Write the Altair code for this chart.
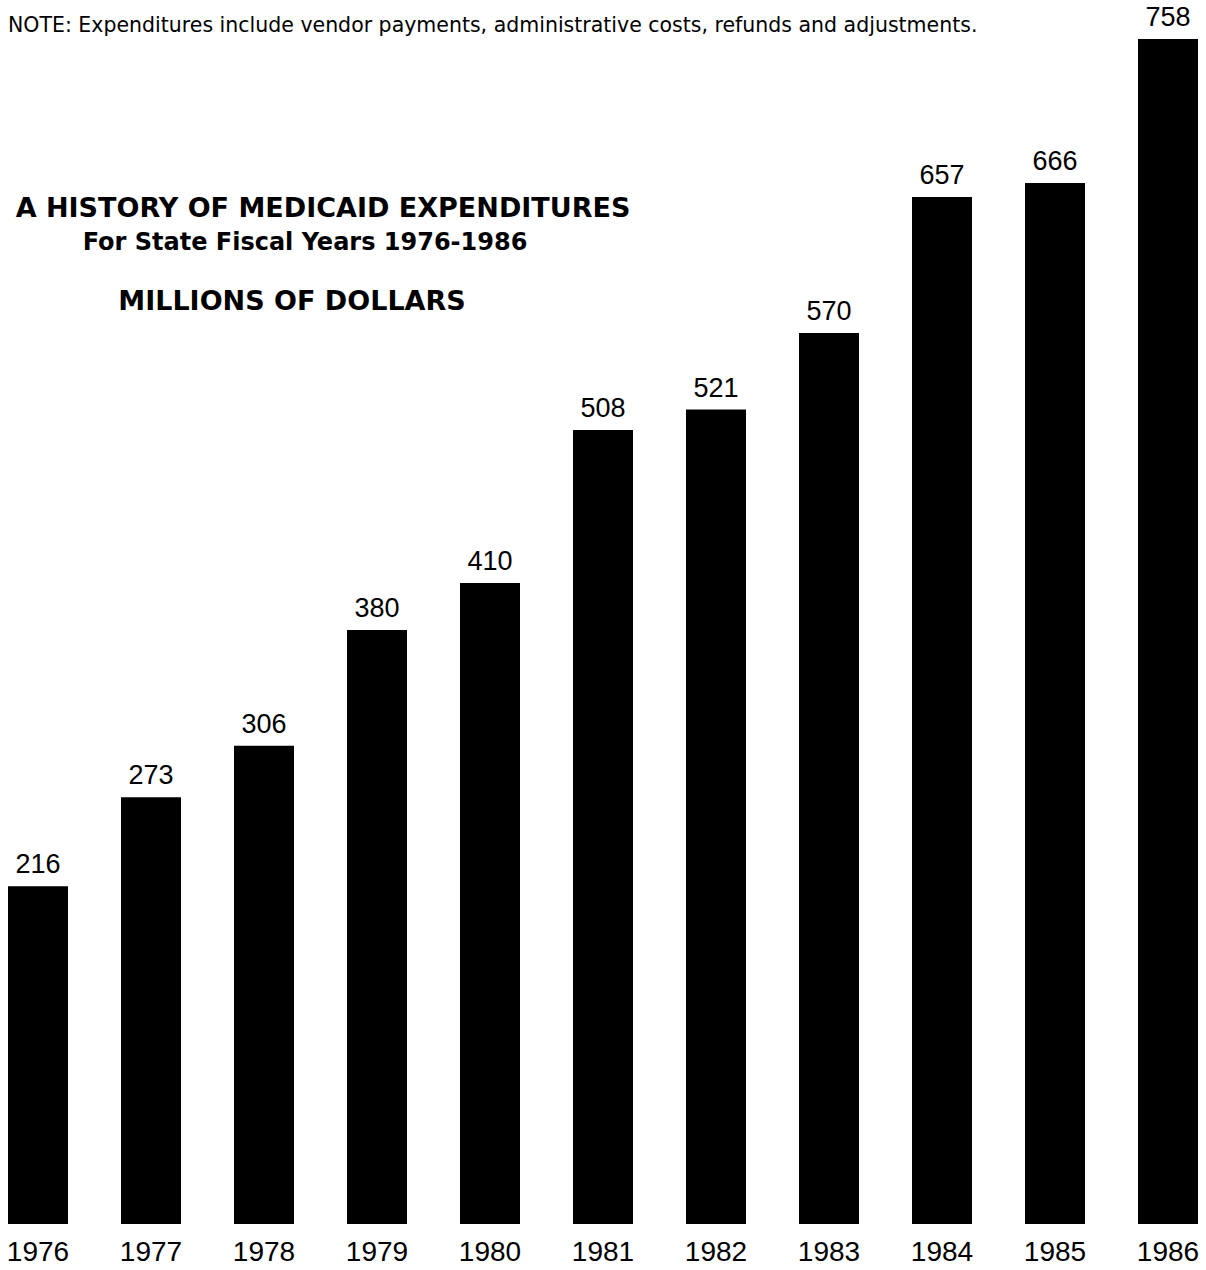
import altair as alt
import pandas as pd

# Medicaid expenditures by state fiscal year, in millions of dollars
years = ["1976", "1977", "1978", "1979", "1980", "1981",
         "1982", "1983", "1984", "1985", "1986"]
expenditures = [216, 273, 306, 380, 410, 508, 521, 570, 657, 666, 758]

note_text = ("NOTE: Expenditures include vendor payments, administrative costs, "
             "refunds and adjustments.")
title_text = "A HISTORY OF MEDICAID EXPENDITURES"
subtitle_text = "For State Fiscal Years 1976-1986"
units_text = "MILLIONS OF DOLLARS"

df = pd.DataFrame({"year": years, "value": expenditures})

FONT = "Liberation Sans"
WIDE = "DejaVu Sans"

x_enc = alt.X(
    "year:N",
    sort=years,
    scale=alt.Scale(paddingInner=0.469, paddingOuter=0.0708),
    axis=alt.Axis(
        title=None, labelAngle=0, domain=False, ticks=False,
        labelFont=FONT, labelFontSize=28, labelColor="black",
        labelPadding=14,
    ),
)
y_enc = alt.Y("value:Q", scale=alt.Scale(domain=[0, 783]), axis=None)

base = alt.Chart(df).encode(x=x_enc, y=y_enc)

bars = base.mark_bar(color="black")

values = base.mark_text(
    font=FONT, fontSize=27, color="black", baseline="alphabetic", dy=-13
).encode(text="value:Q")

note = alt.Chart(pd.DataFrame({"t": [note_text]})).mark_text(
    font=WIDE, fontSize=20.5, align="left", baseline="middle", color="black"
).encode(x=alt.value(8), y=alt.value(26), text="t:N")

title = alt.Chart(pd.DataFrame({"t": [title_text]})).mark_text(
    font=WIDE, fontSize=27, fontWeight="bold", align="center",
    baseline="middle", color="black"
).encode(x=alt.value(323), y=alt.value(209), text="t:N")

subtitle = alt.Chart(pd.DataFrame({"t": [subtitle_text]})).mark_text(
    font=WIDE, fontSize=24, fontWeight="bold", align="center",
    baseline="middle", color="black"
).encode(x=alt.value(305), y=alt.value(243), text="t:N")

units = alt.Chart(pd.DataFrame({"t": [units_text]})).mark_text(
    font=WIDE, fontSize=27, fontWeight="bold", align="center",
    baseline="middle", color="black"
).encode(x=alt.value(292), y=alt.value(302), text="t:N")

chart = alt.layer(bars, values, note, title, subtitle, units).properties(
    width=1206,
    height=1224,
    padding={"left": 0, "top": 0, "right": 0, "bottom": 46},
    autosize=alt.AutoSizeParams(type="none"),
    background="white",
).configure_view(stroke=None)

chart.save("out.html", embed_options={"renderer": "svg", "actions": False})
